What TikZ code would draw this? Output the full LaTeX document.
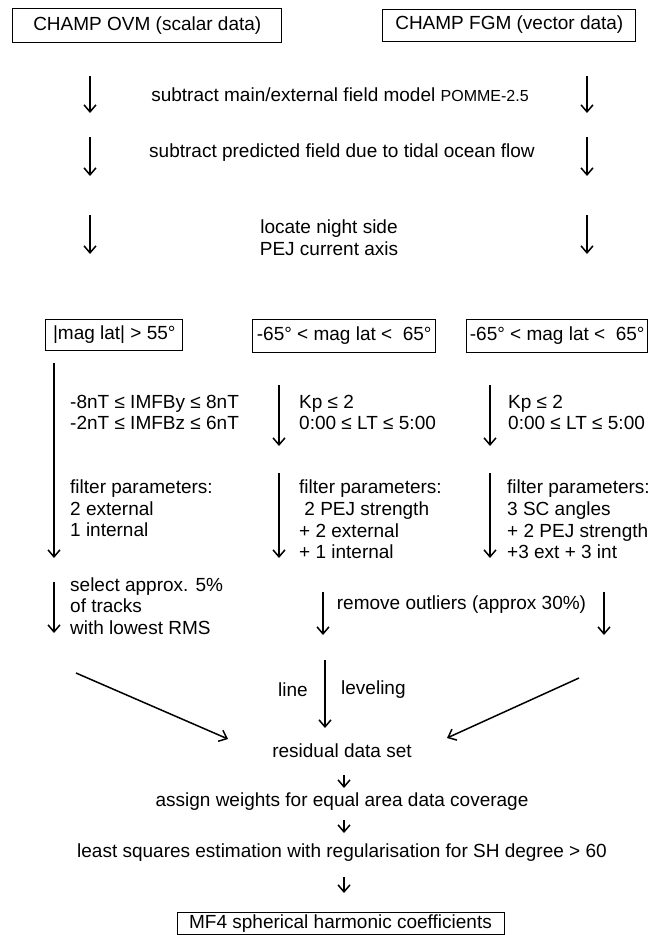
\documentclass[tikz,border=0pt]{standalone}
\usepackage{fontspec}
\setmainfont{Liberation Sans}
\usetikzlibrary{arrows.meta}
\begin{document}
\begin{tikzpicture}[x=1pt,y=-1pt,
  txt/.style={inner sep=0pt, font=\fontsize{19}{21.7}\selectfont},
  boxnode/.style={draw, line width=1pt, inner sep=1pt, font=\fontsize{19}{21.7}\selectfont},
  arr/.style={line width=1.5pt, -{Straight Barb[length=7pt,width=12pt,line width=1.5pt]}}]
\useasboundingbox (0,0) rectangle (662,935);

% top boxes
\node[boxnode, minimum width=269pt, minimum height=34pt] (ovm) at (147.3,25.8) {CHAMP OVM (scalar data)};
\node[boxnode, minimum width=253pt, minimum height=32pt] (fgm) at (509.3,25) {CHAMP FGM (vector data)};

% row 1
\coordinate (r1La) at (90,76); \coordinate (r1Lb) at (90,113);
\coordinate (r1Ra) at (587,76); \coordinate (r1Rb) at (587,113);
\draw[arr] (r1La) -- (r1Lb);
\draw[arr] (r1Ra) -- (r1Rb);
\node[txt] (pomme) at (340,95) {subtract main/external field model {\fontsize{16}{18}\selectfont POMME-2.5}};

% row 2
\coordinate (r2La) at (90,137); \coordinate (r2Lb) at (90,176);
\coordinate (r2Ra) at (587,137); \coordinate (r2Rb) at (587,176);
\draw[arr] (r2La) -- (r2Lb);
\draw[arr] (r2Ra) -- (r2Rb);
\node[txt] (tidal) at (342,153) {subtract predicted field due to tidal ocean flow};

% row 3
\coordinate (r3La) at (90,215); \coordinate (r3Lb) at (90,254);
\coordinate (r3Ra) at (587,215); \coordinate (r3Rb) at (587,254);
\draw[arr] (r3La) -- (r3Lb);
\draw[arr] (r3Ra) -- (r3Rb);
\node[txt, align=center] (pej) at (329,237.5) {locate night side\\PEJ current axis};

% latitude boxes
\node[boxnode, minimum width=137pt, minimum height=31pt] (latL) at (114.3,335) {|mag lat| > 55°};
\node[boxnode, minimum width=182.5pt, minimum height=33pt] (latM) at (344.2,335.5) {-65° < mag lat <\ \ 65°};
\node[boxnode, minimum width=180.5pt, minimum height=33pt] (latR) at (557.2,335.5) {-65° < mag lat <\ \ 65°};

% left column
\coordinate (cLa) at (54,363); \coordinate (cLb) at (54,558);
\draw[arr] (cLa) -- (cLb);
\node[txt, align=left, anchor=west] (imf) at (70,412.5) {-8nT ≤ IMFBy ≤ 8nT\\-2nT ≤ IMFBz ≤ 6nT};
\node[txt, align=left, anchor=west] (fpL) at (70,508.5) {filter parameters:\\2 external\\1 internal};

% middle column
\coordinate (cM1a) at (279,385); \coordinate (cM1b) at (279,446);
\draw[arr] (cM1a) -- (cM1b);
\node[txt, align=left, anchor=west] (kpM) at (299,412.5) {Kp ≤ 2\\0:00 ≤ LT ≤ 5:00};
\coordinate (cM2a) at (279,473); \coordinate (cM2b) at (279,558);
\draw[arr] (cM2a) -- (cM2b);
\node[txt, align=left, anchor=west] (fpM) at (299,519.5) {filter parameters:\\\ 2 PEJ strength\\+ 2 external\\+ 1 internal};

% right column
\coordinate (cR1a) at (490,385); \coordinate (cR1b) at (490,446);
\draw[arr] (cR1a) -- (cR1b);
\node[txt, align=left, anchor=west] (kpR) at (508,412.5) {Kp ≤ 2\\0:00 ≤ LT ≤ 5:00};
\coordinate (cR2a) at (490,473); \coordinate (cR2b) at (490,558);
\draw[arr] (cR2a) -- (cR2b);
\node[txt, align=left, anchor=west] (fpR) at (507,519.5) {filter parameters:\\3 SC angles\\+ 2 PEJ strength\\+3 ext + 3 int};

% select / remove
\coordinate (sLa) at (54,582); \coordinate (sLb) at (54,633);
\draw[arr] (sLa) -- (sLb);
\node[txt, align=left, anchor=west] (sel) at (70,606) {select approx. 5\%\\of tracks\\with lowest RMS};
\coordinate (oLa) at (323,592); \coordinate (oLb) at (323,635);
\coordinate (oRa) at (604,592); \coordinate (oRb) at (604,635);
\draw[arr] (oLa) -- (oLb);
\draw[arr] (oRa) -- (oRb);
\node[txt] (outl) at (461.5,605) {remove outliers (approx 30\%)};

% line leveling
\coordinate (lva) at (325,660); \coordinate (lvb) at (325,728);
\draw[arr] (lva) -- (lvb);
\node[txt, anchor=east] (lineT) at (308,690) {line};
\node[txt, anchor=west] (levT) at (341,690) {leveling};

% residual
\node[txt] (res) at (342,751) {residual data set};
\coordinate (dLa) at (76,673); \coordinate (dLb) at (228,739);
\coordinate (dRa) at (579,678); \coordinate (dRb) at (447,738);
\draw[arr] (dLa) -- (dLb);
\draw[arr] (dRa) -- (dRb);

\node[txt] (wts) at (342,802) {assign weights for equal area data coverage};
\coordinate (w1a) at (344,775); \coordinate (w1b) at (344,788);
\draw[arr] (w1a) -- (w1b);
\node[txt] (lsq) at (342,853) {least squares estimation with regularisation for SH degree > 60};
\coordinate (w2a) at (344,820); \coordinate (w2b) at (344,833);
\draw[arr] (w2a) -- (w2b);
\coordinate (w3a) at (344,877); \coordinate (w3b) at (344,893);
\draw[arr] (w3a) -- (w3b);

\node[boxnode, minimum width=327pt, minimum height=22pt, inner ysep=0pt] (mf4) at (340.5,923.5) {MF4 spherical harmonic coefficients};
\end{tikzpicture}
\end{document}
